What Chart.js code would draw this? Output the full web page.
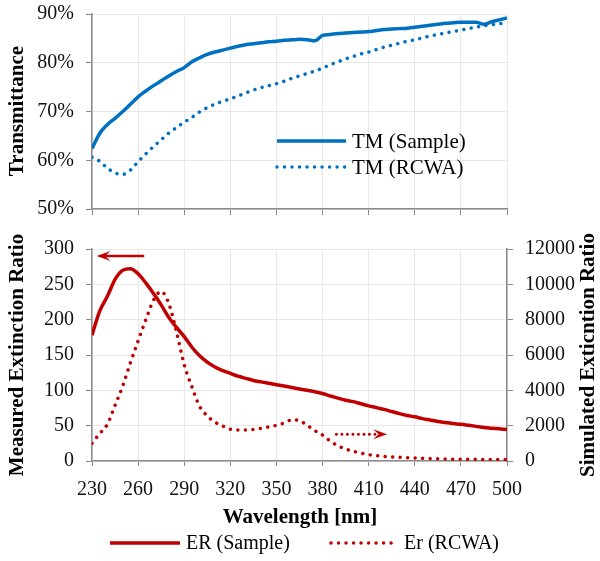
<!DOCTYPE html>
<html>
<head>
<meta charset="utf-8">
<script src="https://cdn.jsdelivr.net/npm/chart.js@4.4.1/dist/chart.umd.min.js"></script>
<style>
  html, body { margin: 0; padding: 0; background: #fff; }
  #wrap { position: relative; width: 600px; height: 561px; }
  canvas { position: absolute; left: 0; }
  #tmChart { top: 0; }
  #erChart { top: 225px; }
</style>
</head>
<body>
<div id="wrap">
  <canvas id="tmChart" width="600" height="225"></canvas>
  <canvas id="erChart" width="600" height="336"></canvas>
</div>
<script>
// wavelength samples (nm), every 5 nm
const wavelengths = [
  230, 235, 240, 245, 250, 255, 260, 265, 270, 275,
  280, 285, 290, 295, 300, 305, 310, 315, 320, 325,
  330, 335, 340, 345, 350, 355, 360, 365, 370, 375,
  380, 385, 390, 395, 400, 405, 410, 415, 420, 425,
  430, 435, 440, 445, 450, 455, 460, 465, 470, 475,
  480, 485, 490, 495, 500
];

// transmittance (%)
const tmSample = [
  62.4, 65.5, 67.3, 68.6, 70.0, 71.5, 73.0, 74.2, 75.3, 76.3,
  77.3, 78.2, 79.0, 80.2, 81.0, 81.7, 82.2, 82.6, 83.0, 83.4,
  83.7, 83.9, 84.1, 84.3, 84.4, 84.6, 84.7, 84.8, 84.7, 84.5,
  85.6, 85.8, 86.0, 86.1, 86.2, 86.3, 86.4, 86.6, 86.8, 86.9,
  87.0, 87.1, 87.3, 87.5, 87.7, 87.9, 88.1, 88.2, 88.3, 88.3,
  88.3, 87.9, 88.4, 88.8, 89.2
];
const tmRcwa = [
  60.6, 59.8, 58.4, 57.4, 57.1, 58.0, 59.7, 61.3, 62.8, 64.2,
  65.6, 66.7, 67.8, 68.8, 69.9, 70.8, 71.5, 72.1, 72.6, 73.2,
  73.8, 74.4, 74.9, 75.3, 75.7, 76.2, 76.8, 77.3, 77.8, 78.3,
  78.9, 79.6, 80.2, 80.8, 81.3, 81.8, 82.2, 82.7, 83.2, 83.6,
  84.0, 84.4, 84.7, 85.1, 85.5, 85.8, 86.1, 86.4, 86.7, 87.0,
  87.3, 87.6, 87.8, 88.0, 88.2
];

// extinction ratio: measured (left axis) and simulated (right axis)
const erSample = [
  178, 212, 233, 257, 270, 272, 265, 252, 237, 221,
  203, 189, 176, 161, 149, 140, 133, 128, 124, 120,
  117, 114, 112, 110, 108, 106, 104, 102, 100, 98,
  95.5, 92, 89, 86, 84, 81, 78, 75.5, 73, 70,
  67, 64.5, 62.5, 60, 58, 56, 54.5, 53, 52, 50.5,
  49, 47.5, 46.5, 45.5, 44.5
];
const erRcwa = [
  1000, 1550, 2080, 3150, 4250, 5570, 6800, 8000, 9100, 9600,
  8900, 7300, 5450, 4200, 3100, 2550, 2200, 1980, 1800, 1760,
  1760, 1790, 1850, 1930, 2020, 2150, 2330, 2280, 2020, 1720,
  1470, 1130, 860, 680, 550, 450, 360, 300, 260, 230,
  210, 190, 170, 150, 135, 125, 115, 105, 100, 95,
  92, 90, 90, 88, 85
];

// tick labels
const wavelengthTicks = [230, 260, 290, 320, 350, 380, 410, 440, 470, 500];
const tmTicks = [50, 60, 70, 80, 90];
const erMeasuredTicks = [0, 50, 100, 150, 200, 250, 300];
const erSimulatedTicks = [0, 2000, 4000, 6000, 8000, 10000, 12000];

// axis-direction arrows, in data units [wavelength, value]
const measuredArrow = { from: [264, 290], to: [233, 290] };
const simulatedArrow = { from: [389, 1515], to: [422, 1515] };

const serif = "'Liberation Serif', 'Times New Roman', serif";
const blue = '#0070C0';
const red = '#C00000';
const gridColor = '#e8e8e8';
const axisColor = '#8a8a8a';

Chart.defaults.font.family = serif;
Chart.defaults.font.size = 20;
Chart.defaults.color = '#111';
Chart.defaults.animation = false;

function toPoints(values) {
  return wavelengths.map((x, i) => ({ x, y: values[i] }));
}

function fixedTicks(values) {
  return scale => { scale.ticks = values.map(value => ({ value })); };
}

// pin the axis width and stop its labels from eating into the plot height
function fixedWidth(w) {
  return scale => {
    scale.width = w;
    scale.paddingTop = 0;
    scale.paddingBottom = 0;
  };
}

function lineDataset(label, values, color, dotted, axis) {
  return {
    label,
    data: toPoints(values),
    borderColor: color,
    backgroundColor: color,
    borderWidth: 3.5,
    borderDash: dotted ? [0.01, 7.5] : [],
    borderCapStyle: dotted ? 'round' : 'butt',
    pointRadius: 0,
    cubicInterpolationMode: 'monotone',
    yAxisID: axis || 'y'
  };
}

// titles and hand-placed legends (the reference puts them in odd places)
const decorPlugin = {
  id: 'decor',
  afterDraw(chart, args, opts) {
    const ctx = chart.ctx;
    (opts.titles || []).forEach(t => {
      ctx.save();
      ctx.translate(t.x, t.y);
      ctx.rotate(t.rotate || 0);
      ctx.font = 'bold 21px ' + serif;
      ctx.fillStyle = '#000';
      ctx.textAlign = 'center';
      ctx.textBaseline = 'middle';
      ctx.fillText(t.text, 0, 0);
      ctx.restore();
    });
    (opts.legend || []).forEach(item => {
      const ds = chart.data.datasets[item.dataset];
      ctx.save();
      ctx.beginPath();
      ctx.setLineDash(ds.borderDash);
      ctx.lineCap = ds.borderCapStyle;
      ctx.lineWidth = ds.borderWidth;
      ctx.strokeStyle = ds.borderColor;
      ctx.moveTo(item.x, item.y);
      ctx.lineTo(item.x + item.w, item.y);
      ctx.stroke();
      ctx.setLineDash([]);
      ctx.font = (opts.legendSize || 20) + 'px ' + serif;
      ctx.fillStyle = '#000';
      ctx.textAlign = 'left';
      ctx.textBaseline = 'middle';
      ctx.fillText(ds.label, item.x + item.w + 6, item.y + 1);
      ctx.restore();
    });
  }
};

const arrowPlugin = {
  id: 'arrows',
  afterDatasetsDraw(chart) {
    const ctx = chart.ctx;
    const x = chart.scales.x;
    const draw = (arrow, yScale, dotted) => {
      const x0 = x.getPixelForValue(arrow.from[0]);
      const x1 = x.getPixelForValue(arrow.to[0]);
      const y = yScale.getPixelForValue(arrow.from[1]);
      const dir = Math.sign(x1 - x0);
      const headLen = 14;
      ctx.save();
      ctx.strokeStyle = red;
      ctx.fillStyle = red;
      ctx.lineWidth = dotted ? 3 : 2.5;
      ctx.setLineDash(dotted ? [0.01, 5.5] : []);
      ctx.lineCap = dotted ? 'round' : 'butt';
      ctx.beginPath();
      ctx.moveTo(x0, y);
      ctx.lineTo(x1 - dir * headLen * 0.6, y);
      ctx.stroke();
      ctx.setLineDash([]);
      ctx.beginPath();
      ctx.moveTo(x1, y);
      ctx.lineTo(x1 - dir * headLen, y - 5);
      ctx.lineTo(x1 - dir * headLen * 0.6, y);
      ctx.lineTo(x1 - dir * headLen, y + 5);
      ctx.closePath();
      ctx.fill();
      ctx.restore();
    };
    draw(measuredArrow, chart.scales.y, false);
    draw(simulatedArrow, chart.scales.y2, true);
  }
};

const gridOpts = { color: gridColor, tickColor: axisColor, lineWidth: 1 };
const borderOpts = { color: axisColor, width: 1.5 };

new Chart(document.getElementById('tmChart'), {
  type: 'line',
  data: {
    datasets: [
      lineDataset('TM (Sample)', tmSample, blue, false),
      lineDataset('TM (RCWA)', tmRcwa, blue, true)
    ]
  },
  options: {
    responsive: false,
    layout: { padding: { top: 14, right: 93, left: 0, bottom: 0 } },
    scales: {
      x: {
        type: 'linear', min: 230, max: 500,
        afterBuildTicks: fixedTicks(wavelengthTicks),
        afterFit: s => { s.height = 16; },
        ticks: { display: false },
        grid: { ...gridOpts, tickLength: 6 },
        border: borderOpts
      },
      y: {
        min: 50, max: 90,
        afterBuildTicks: fixedTicks(tmTicks),
        afterFit: fixedWidth(92),
        ticks: { padding: 12, callback: v => v + '%' },
        grid: { ...gridOpts, tickLength: 6 },
        border: borderOpts
      }
    },
    plugins: {
      legend: { display: false },
      tooltip: { enabled: false },
      decor: {
        titles: [{ text: 'Transmittance', x: 18, y: 111, rotate: -Math.PI / 2 }],
        legendSize: 21,
        legend: [
          { dataset: 0, x: 277, y: 141, w: 69 },
          { dataset: 1, x: 277, y: 167, w: 69 }
        ]
      }
    }
  },
  plugins: [decorPlugin]
});

new Chart(document.getElementById('erChart'), {
  type: 'line',
  data: {
    datasets: [
      lineDataset('ER (Sample)', erSample, red, false, 'y'),
      lineDataset('Er (RCWA)', erRcwa, red, true, 'y2')
    ]
  },
  options: {
    responsive: false,
    layout: { padding: { top: 24, right: 0, left: 0, bottom: 0 } },
    scales: {
      x: {
        type: 'linear', min: 230, max: 500,
        afterBuildTicks: fixedTicks(wavelengthTicks),
        afterFit: s => { s.height = 100; },
        ticks: { padding: 12, maxRotation: 0 },
        grid: { ...gridOpts, tickLength: 5 },
        border: borderOpts
      },
      y: {
        position: 'left', min: 0, max: 300,
        afterBuildTicks: fixedTicks(erMeasuredTicks),
        afterFit: fixedWidth(92),
        ticks: { padding: 12 },
        grid: { ...gridOpts, tickLength: 6 },
        border: borderOpts
      },
      y2: {
        position: 'right', min: 0, max: 12000,
        afterBuildTicks: fixedTicks(erSimulatedTicks),
        afterFit: fixedWidth(93),
        ticks: { padding: 12, callback: v => String(v) },
        grid: { ...gridOpts, tickLength: 6, drawOnChartArea: false },
        border: borderOpts
      }
    },
    plugins: {
      legend: { display: false },
      tooltip: { enabled: false },
      decor: {
        titles: [
          { text: 'Measured Extinction Ratio', x: 18, y: 130, rotate: -Math.PI / 2 },
          { text: 'Simulated Exticntion Ratio', x: 589, y: 130, rotate: -Math.PI / 2 },
          { text: 'Wavelength [nm]', x: 300, y: 293 }
        ],
        legendSize: 20,
        legend: [
          { dataset: 0, x: 110, y: 318, w: 70 },
          { dataset: 1, x: 331, y: 318, w: 67 }
        ]
      }
    }
  },
  plugins: [decorPlugin, arrowPlugin]
});
</script>
</body>
</html>
